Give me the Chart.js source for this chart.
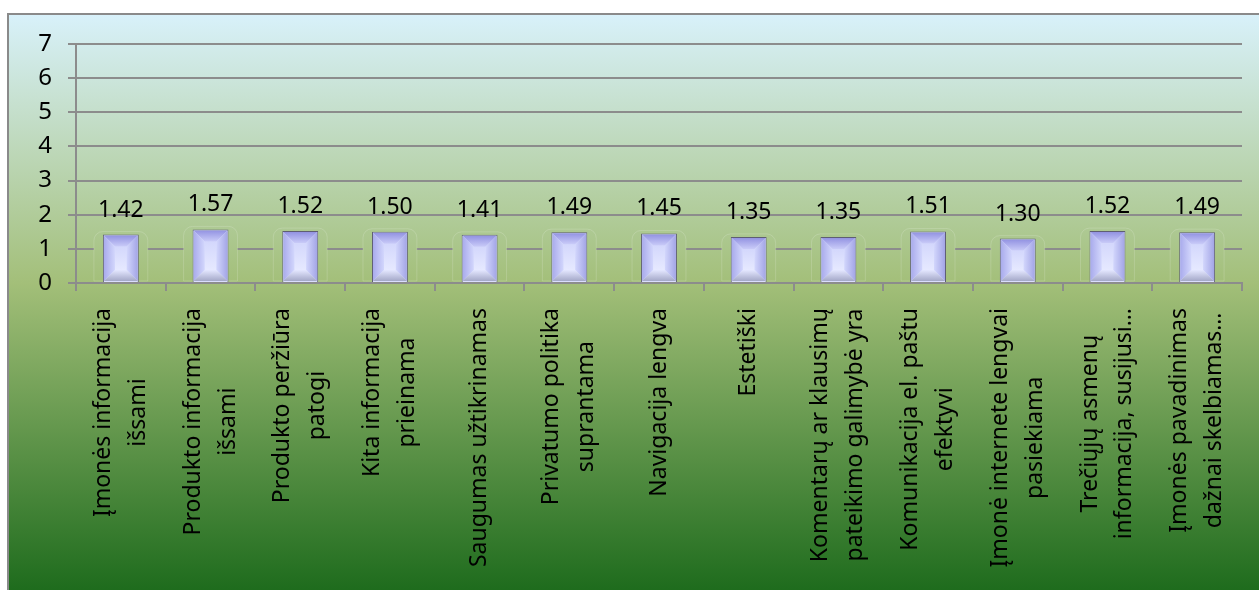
<!DOCTYPE html>
<html>
<head>
<meta charset="utf-8">
<script src="https://cdn.jsdelivr.net/npm/chart.js@4.4.1/dist/chart.umd.min.js"></script>
<style>
  html, body { margin: 0; padding: 0; background: #ffffff; }
  #c { display: block; }
</style>
</head>
<body>
<canvas id="c" width="1259" height="590"></canvas>
<script>
// ---- data ----
const categories = [
  ["Įmonės informacija", "išsami"],
  ["Produkto informacija", "išsami"],
  ["Produkto peržiūra", "patogi"],
  ["Kita informacija", "prieinama"],
  "Saugumas užtikrinamas",
  ["Privatumo politika", "suprantama"],
  "Navigacija lengva",
  "Estetiški",
  ["Komentarų ar klausimų", "pateikimo galimybė yra"],
  ["Komunikacija el. paštu", "efektyvi"],
  ["Įmonė internete lengvai", "pasiekiama"],
  ["Trečiųjų asmenų", "informacija, susijusi…"],
  ["Įmonės pavadinimas", "dažnai skelbiamas…"]
];
const values = [1.42, 1.57, 1.52, 1.50, 1.41, 1.49, 1.45, 1.35, 1.35, 1.51, 1.30, 1.52, 1.49];
const yMin = 0;
const yMax = 7;
const yStep = 1;

const FONT = "'Noto Sans', 'Open Sans', sans-serif";
const GRID = '#8c8c8c';

function bgGradient(ctx) {
  const g = ctx.createLinearGradient(0, 15, 0, 600);
  g.addColorStop(0, '#d8f1fa');
  g.addColorStop(0.458, '#a3bf79');
  g.addColorStop(1, '#1a691a');
  return g;
}

// background panel with border
const panel = {
  id: 'panel',
  beforeDraw(chart) {
    const ctx = chart.ctx;
    ctx.save();
    ctx.fillStyle = '#ffffff';
    ctx.fillRect(0, 0, chart.width, chart.height);
    ctx.fillStyle = '#8a8a8a';
    ctx.fillRect(7, 13, chart.width - 7, 2);
    ctx.fillRect(7, 13, 2, chart.height - 13);
    ctx.fillStyle = bgGradient(ctx);
    ctx.fillRect(9, 15, chart.width - 9, chart.height - 15);
    ctx.restore();
  }
};

// center multi-line rotated category labels
const xLabelFix = {
  id: 'xLabelFix',
  beforeDraw(chart) {
    const s = chart.scales.x;
    const items = s.getLabelItems();
    const ctx = chart.ctx;
    items.forEach(it => {
      if (it._fixed) return;
      it._fixed = true;
      const lines = Array.isArray(it.label) ? it.label : [it.label];
      ctx.save();
      ctx.font = it.font.string;
      const maxW = Math.max(...lines.map(l => ctx.measureText(l).width));
      ctx.restore();
      const lh = it.font.lineHeight;
      it.options.translation[0] -= (lines.length - 1) * lh / 2;
      it.options.translation[1] += maxW / 2;
      it.options.textAlign = 'center';
    });
  }
};

// glow halo behind bars
const halo = {
  id: 'halo',
  beforeDatasetsDraw(chart) {
    const ctx = chart.ctx;
    const meta = chart.getDatasetMeta(0);
    ctx.save();
    meta.data.forEach(el => {
      const p = el.getProps(['x', 'y', 'base', 'width'], true);
      const l = p.x - p.width / 2 - 9, r = p.x + p.width / 2 + 9;
      const t = p.y - 3, b = p.base - 1;
      ctx.beginPath();
      ctx.roundRect(l, t, r - l, b - t, [9, 9, 0, 0]);
      ctx.fillStyle = bgGradient(ctx);
      ctx.fill();
      ctx.strokeStyle = 'rgba(255,255,255,0.16)';
      ctx.lineWidth = 1;
      ctx.stroke();
    });
    ctx.restore();
  }
};

// bevel + value labels
const bevel = {
  id: 'bevel',
  afterDatasetsDraw(chart) {
    const ctx = chart.ctx;
    const meta = chart.getDatasetMeta(0);
    ctx.save();
    meta.data.forEach((el, i) => {
      const p = el.getProps(['x', 'y', 'base', 'width'], true);
      const L = p.x - p.width / 2 + 1, R = p.x + p.width / 2 - 1;
      const T = p.y + 1, B = p.base - 1;
      const w = R - L, h = B - T;
      const d = Math.min(11, w / 2, h / 2);
      // center
      let g = ctx.createLinearGradient(0, T + d, 0, B - d);
      g.addColorStop(0, '#d3d7fc');
      g.addColorStop(1, '#e6e9ff');
      ctx.fillStyle = g;
      ctx.fillRect(L + d, T + d, w - 2 * d, h - 2 * d);
      // top
      g = ctx.createLinearGradient(0, T, 0, T + d);
      g.addColorStop(0, '#9393e2');
      g.addColorStop(1, '#c9cbf8');
      ctx.fillStyle = g;
      ctx.beginPath();
      ctx.moveTo(L, T); ctx.lineTo(R, T); ctx.lineTo(R - d, T + d); ctx.lineTo(L + d, T + d); ctx.closePath();
      ctx.fill();
      // left
      g = ctx.createLinearGradient(L, 0, L + d, 0);
      g.addColorStop(0, '#a9abec');
      g.addColorStop(1, '#d2d6fc');
      ctx.fillStyle = g;
      ctx.beginPath();
      ctx.moveTo(L, T); ctx.lineTo(L + d, T + d); ctx.lineTo(L + d, B - d); ctx.lineTo(L, B); ctx.closePath();
      ctx.fill();
      // right
      g = ctx.createLinearGradient(R, 0, R - d, 0);
      g.addColorStop(0, '#a3a5e6');
      g.addColorStop(1, '#d2d6fc');
      ctx.fillStyle = g;
      ctx.beginPath();
      ctx.moveTo(R, T); ctx.lineTo(R - d, T + d); ctx.lineTo(R - d, B - d); ctx.lineTo(R, B); ctx.closePath();
      ctx.fill();
      // bottom
      g = ctx.createLinearGradient(0, B - d, 0, B);
      g.addColorStop(0, '#e4e7ff');
      g.addColorStop(1, '#a4a8c8');
      ctx.fillStyle = g;
      ctx.beginPath();
      ctx.moveTo(L, B); ctx.lineTo(R, B); ctx.lineTo(R - d, B - d); ctx.lineTo(L + d, B - d); ctx.closePath();
      ctx.fill();
      // value label
      ctx.fillStyle = '#000000';
      ctx.font = "23px " + FONT;
      ctx.textAlign = 'center';
      ctx.textBaseline = 'alphabetic';
      ctx.fillText(values[i].toFixed(2), p.x, p.y - 18);
    });
    ctx.restore();
  }
};

new Chart(document.getElementById('c'), {
  type: 'bar',
  data: {
    labels: categories,
    datasets: [{
      data: values,
      backgroundColor: '#dadefd',
      borderColor: '#5e5e74',
      borderWidth: 1,
      barPercentage: 0.4,
      categoryPercentage: 1.0
    }]
  },
  options: {
    responsive: false,
    animation: false,
    devicePixelRatio: 1,
    layout: { padding: { top: 44, right: 17, left: 0, bottom: 0 } },
    plugins: { legend: { display: false }, tooltip: { enabled: false } },
    scales: {
      x: {
        offset: true,
        grid: { display: true, drawOnChartArea: false, drawTicks: true, tickLength: 8, offset: true, color: GRID, lineWidth: 2 },
        border: { display: true, color: GRID, width: 2 },
        ticks: {
          autoSkip: false,
          minRotation: 90,
          maxRotation: 90,
          padding: 17,
          color: '#000000',
          font: { family: FONT, size: 23, lineHeight: 1.52 }
        },
        afterFit(scale) {
          scale.height = 590 - 283;
          scale.paddingLeft = 0;
          scale.paddingRight = 0;
        }
      },
      y: {
        min: yMin,
        max: yMax,
        grid: { color: GRID, lineWidth: 2, tickLength: 8, drawTicks: true },
        border: { display: true, color: GRID, width: 2 },
        ticks: {
          stepSize: yStep,
          padding: 16,
          color: '#000000',
          font: { family: FONT, size: 24 }
        },
        afterFit(scale) {
          scale.width = 76;
          scale.paddingTop = 0;
          scale.paddingBottom = 0;
        }
      }
    }
  },
  plugins: [panel, xLabelFix, halo, bevel]
});
</script>
</body>
</html>
